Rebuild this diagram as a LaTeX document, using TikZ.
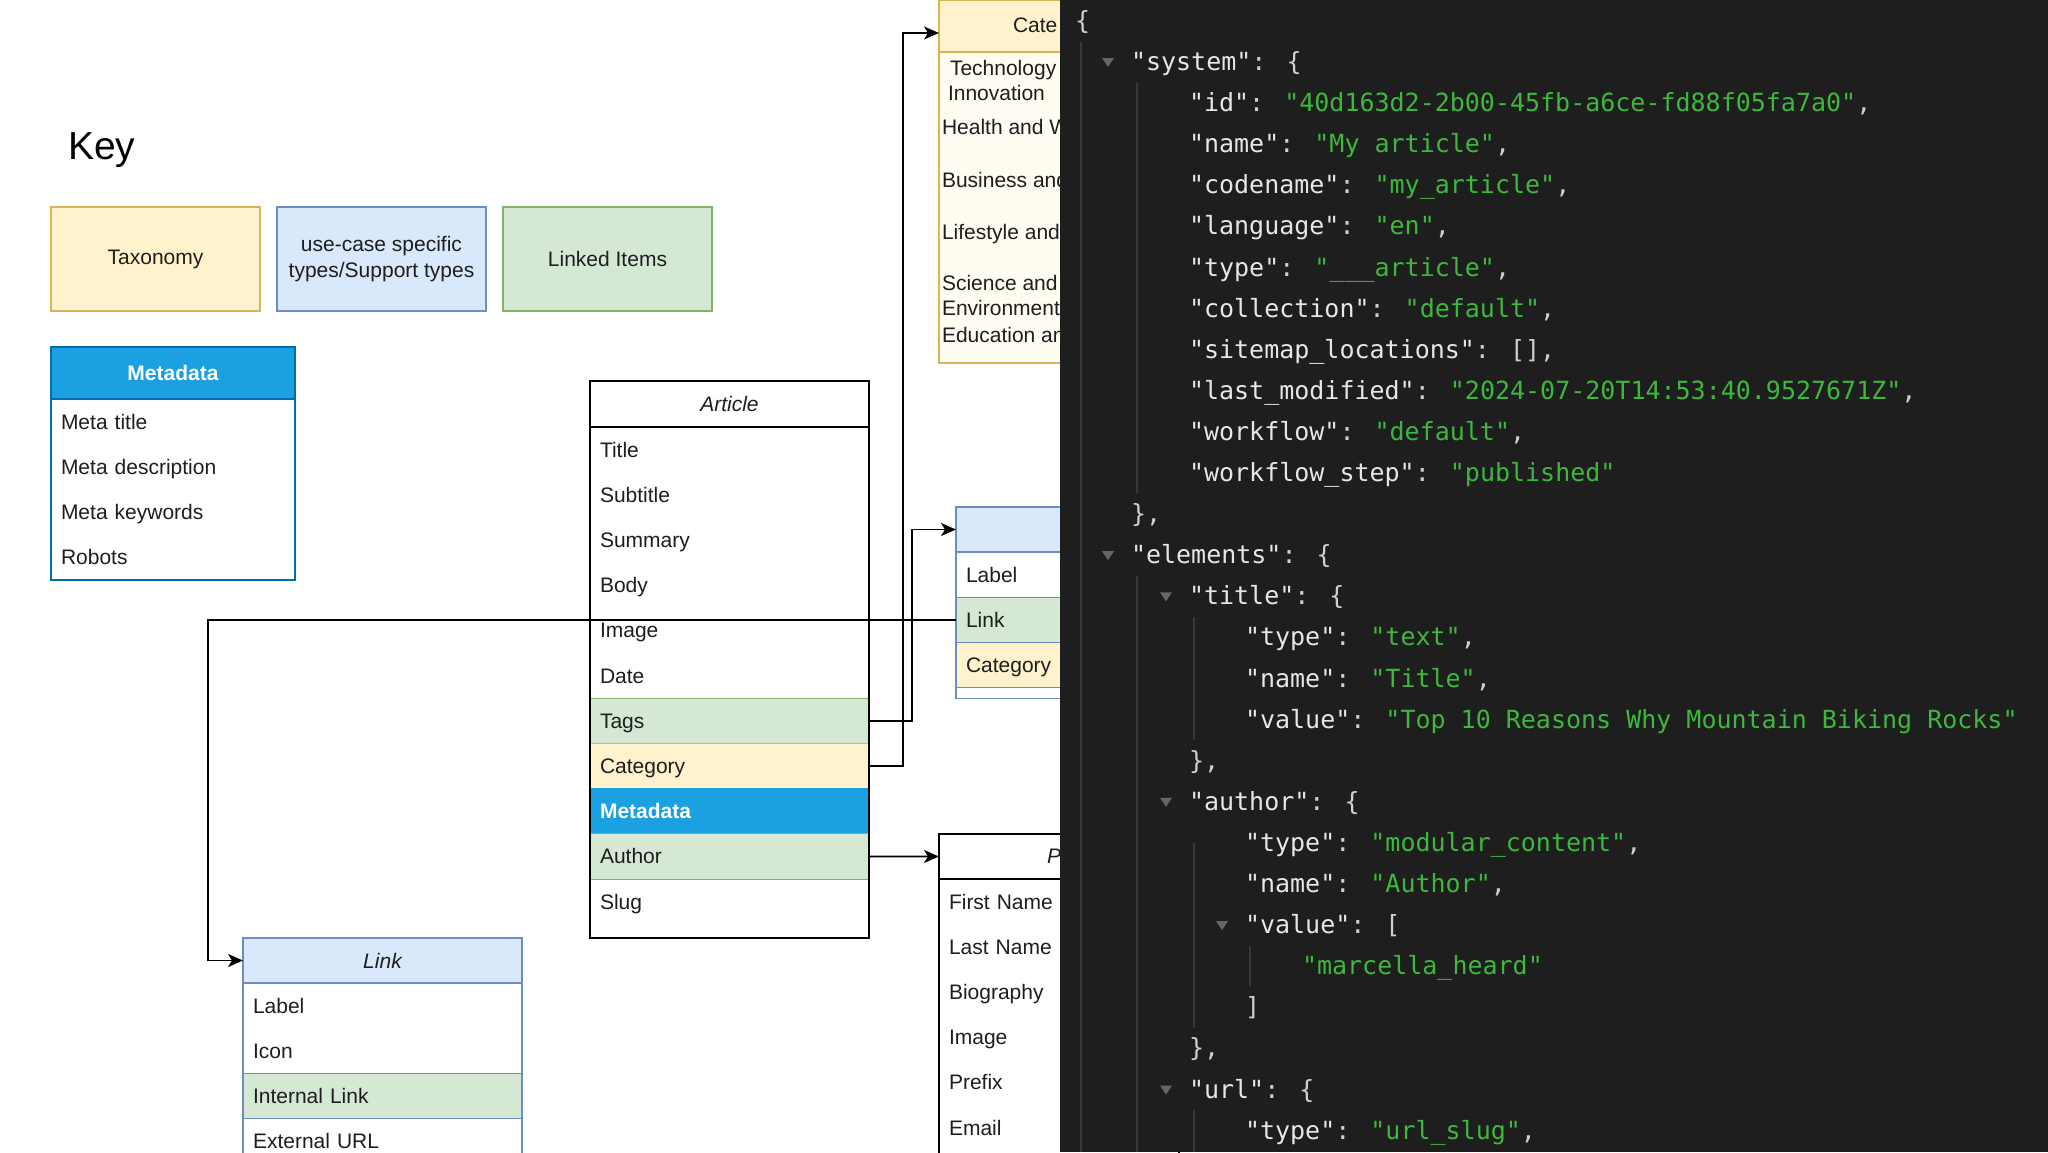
\documentclass[tikz,border=0pt]{standalone}
\usepackage{fontspec}
\setmainfont{Liberation Sans}
\newfontfamily\jsonfont{DejaVu Sans Mono}
\usetikzlibrary{arrows.meta}
\definecolor{lyel}{HTML}{FFF2CC}
\definecolor{byel}{HTML}{D6B656}
\definecolor{lblue}{HTML}{DAE8FC}
\definecolor{bblue}{HTML}{6C8EBF}
\definecolor{lgreen}{HTML}{D5E8D4}
\definecolor{bgreen}{HTML}{82B366}
\definecolor{mblue}{HTML}{1BA1E2}
\definecolor{mborder}{HTML}{006EAF}
\definecolor{catbody}{HTML}{FFFCF2}
\definecolor{dtxt}{HTML}{1E1E1E}
\definecolor{panel}{HTML}{1E1E1E}
\definecolor{jkey}{HTML}{E6E6E6}
\definecolor{jpun}{HTML}{D0D0D0}
\definecolor{jstr}{HTML}{3DB83D}
\definecolor{jguide}{HTML}{383838}
\definecolor{jtri}{HTML}{666666}
\newcommand\dfont{\fontsize{21}{26}\selectfont}
\newcommand\jsk[1]{\textcolor{jkey}{#1}}
\newcommand\jsv[1]{\textcolor{jstr}{#1}}
\begin{document}
\begin{tikzpicture}[x=1pt,y=-1pt,
  every node/.append style={outer sep=0pt},
  dtext/.style={font=\dfont, text=dtxt},
  cell/.style={rectangle, anchor=north west, inner xsep=10pt, inner ysep=0pt, minimum height=45.2pt, text height=18.6pt, text depth=3.6pt, align=left, dtext},
  hcell/.style={cell, align=center},
  artcell/.style={cell, text width=259pt},
  lnkcell/.style={cell, text width=259pt},
  midcell/.style={cell, text width=220pt, draw=bblue, line width=1pt},
  percell/.style={cell, text width=220pt},
  metacell/.style={cell, text width=224pt},
  keybox/.style={rectangle, anchor=north west, minimum width=209pt, minimum height=104pt, inner sep=0pt, align=center, dtext, line width=1.2pt},
  greenrow/.style={fill=lgreen, draw=bgreen, line width=1pt},
  yelrow/.style={fill=lyel, draw=byel, line width=1pt},
  bluerow/.style={fill=mblue, draw=mblue, line width=1pt},
  cattext/.style={anchor=base west, inner sep=0pt, dtext},
  conn/.style={draw=black, line width=1.8pt, -{Stealth[length=15pt,width=13pt,inset=4pt]}},
  jl/.style={anchor=base west, inner sep=0pt, font=\jsonfont\fontsize{25}{30}\selectfont, text=jpun},
  guide/.style={draw=jguide, line width=1.3pt},
  tri/.style={fill=jtri}
]
\useasboundingbox (0,0) rectangle (2048,1152);
\clip (0,0) rectangle (2048,1152);
\fill[white] (0,0) rectangle (2048,1152);

% ---------- Key ----------
\node[anchor=base west, inner sep=0pt, font=\fontsize{39}{42}\selectfont, text=black] (key-title) at (68,159) {Key};
\node[keybox, fill=lyel, draw=byel] (key-tax) at (51,207) {Taxonomy};
\node[keybox, fill=lblue, draw=bblue] (key-use) at (277,207) {use-case specific\\types/Support types};
\node[keybox, fill=lgreen, draw=bgreen] (key-link) at (503,207) {Linked Items};

% ---------- Metadata ----------
\node[hcell, text width=224pt, minimum height=52pt, fill=mblue, draw=mborder, line width=1.2pt, font=\dfont\bfseries, text=white] (meta-head) at (51,347) {Metadata};
\node[metacell] (meta-r1) at (meta-head.south west) {Meta title};
\node[metacell] (meta-r2) at (meta-r1.south west) {Meta description};
\node[metacell] (meta-r3) at (meta-r2.south west) {Meta keywords};
\node[metacell] (meta-r4) at (meta-r3.south west) {Robots};
\draw[mborder, line width=1.5pt] (meta-head.north west) rectangle (meta-r4.south east);

% ---------- Article ----------
\node[hcell, text width=259pt, minimum height=46pt, draw=black, line width=1.5pt, font=\dfont\itshape] (art-head) at (590,381) {Article};
\node[artcell] (art-title) at (art-head.south west) {Title};
\node[artcell] (art-subtitle) at (art-title.south west) {Subtitle};
\node[artcell] (art-summary) at (art-subtitle.south west) {Summary};
\node[artcell] (art-body) at (art-summary.south west) {Body};
\node[artcell] (art-image) at (art-body.south west) {Image};
\node[artcell] (art-date) at (art-image.south west) {Date};
\node[artcell, greenrow] (art-tags) at (art-date.south west) {Tags};
\node[artcell, yelrow] (art-cat) at (art-tags.south west) {Category};
\node[artcell, bluerow, font=\dfont\bfseries, text=white] (art-meta) at (art-cat.south west) {Metadata};
\node[artcell, greenrow] (art-author) at (art-meta.south west) {Author};
\node[artcell] (art-slug) at (art-author.south west) {Slug};
\draw[black, line width=1.5pt] (art-head.north west) rectangle ([yshift=-13.8pt]art-slug.south east);

% ---------- Link ----------
\node[hcell, text width=259pt, minimum height=45pt, fill=lblue, draw=bblue, line width=1.2pt, font=\dfont\itshape] (lnk-head) at (243,938) {Link};
\node[lnkcell] (lnk-label) at (lnk-head.south west) {Label};
\node[lnkcell] (lnk-icon) at (lnk-label.south west) {Icon};
\node[lnkcell, greenrow, draw=bblue] (lnk-int) at (lnk-icon.south west) {Internal Link};
\node[lnkcell, draw=bblue, line width=1pt] (lnk-ext) at (lnk-int.south west) {External URL};
\draw[bblue, line width=1.5pt] (lnk-head.north west) rectangle ([yshift=-60pt]lnk-ext.south east);

% ---------- middle support type ----------
\node[hcell, text width=220pt, minimum height=45pt, fill=lblue, draw=bblue, line width=1.2pt] (mid-head) at (956,507) {};
\node[midcell] (mid-label) at (mid-head.south west) {Label};
\node[midcell, fill=lgreen] (mid-link) at (mid-label.south west) {Link};
\node[midcell, fill=lyel] (mid-cat) at (mid-link.south west) {Category};
\draw[bblue, line width=1.5pt] (mid-head.north west) rectangle ([yshift=-11pt]mid-cat.south east);

% ---------- Category taxonomy ----------
\node[cell, text width=220pt, minimum height=52pt, fill=lyel, draw=byel, line width=1.2pt] (cat-head) at (939,0) {};
\node[cell, text width=220pt, minimum height=311pt, fill=catbody, draw=byel, line width=1.2pt] (cat-body) at (cat-head.south west) {};
\node[cattext] (cat-title) at (1013,32) {Cate};
\node[cattext] (cat-t1) at (950,75) {Technology};
\node[cattext] (cat-t1b) at (948,100) {Innovation};
\node[cattext] (cat-t2) at (942,134) {Health and W};
\node[cattext] (cat-t3) at (942,187) {Business and};
\node[cattext] (cat-t4) at (942,239) {Lifestyle and};
\node[cattext] (cat-t5) at (942,290) {Science and};
\node[cattext] (cat-t5b) at (942,315) {Environment};
\node[cattext] (cat-t6) at (942,342) {Education an};

% ---------- Person ----------
\node[cell, text width=220pt, minimum height=45pt, draw=black, line width=1.5pt] (per-head) at (939,834) {};
\node[cattext, font=\dfont\itshape] (per-title) at (1047,863) {P};
\node[percell] (per-first) at (per-head.south west) {First Name};
\node[percell] (per-last) at (per-first.south west) {Last Name};
\node[percell] (per-bio) at (per-last.south west) {Biography};
\node[percell] (per-img) at (per-bio.south west) {Image};
\node[percell] (per-prefix) at (per-img.south west) {Prefix};
\node[percell] (per-email) at (per-prefix.south west) {Email};
\draw[black, line width=1.5pt] (per-head.north west) rectangle ([yshift=-60pt]per-email.south east);

% ---------- connectors ----------
\coordinate (lk-corner) at (208,800);
\coordinate (tg-corner) at (912,600);
\coordinate (ct-corner) at (903,400);
\draw[conn] (mid-link.west) -| (lk-corner) |- (lnk-head.west);
\draw[conn] (art-tags.east) -| (tg-corner) |- (mid-head.west);
\draw[conn] (art-cat.east) -| (ct-corner) |- ([yshift=-7pt]cat-head.west);
\draw[conn] (art-author.east) -- (per-head.west);

% ---------- JSON panel ----------
\fill[panel] (1060,0) rectangle (2048,1152);
\draw[guide] (1081,42) -- (1081,1152);
\draw[guide] (1137,83) -- (1137,493);
\draw[guide] (1137,576) -- (1137,1152);
\draw[guide] (1194,617) -- (1194,740);
\draw[guide] (1194,843) -- (1194,1028);
\draw[guide] (1194,1110) -- (1194,1152);
\draw[guide] (1250,946) -- (1250,986);

\foreach \ln/\tx in {1/1108, 13/1108, 14/1166, 19/1166, 22/1222, 26/1166}{
  \fill[tri] ({\tx-6},{20.9+41.1*\ln-4}) -- ({\tx+6},{20.9+41.1*\ln-4}) -- (\tx,{20.9+41.1*\ln+5}) -- cycle;
}

\node[jl] (j0) at (1075,{20.9+41.1*0+8.5}) {\{};
\node[jl] (j1) at (1131,{20.9+41.1*1+8.5}) {\jsk{"system"}: \{};
\node[jl] (j2) at (1189,{20.9+41.1*2+8.5}) {\jsk{"id"}: \jsv{"40d163d2-2b00-45fb-a6ce-fd88f05fa7a0"},};
\node[jl] (j3) at (1189,{20.9+41.1*3+8.5}) {\jsk{"name"}: \jsv{"My article"},};
\node[jl] (j4) at (1189,{20.9+41.1*4+8.5}) {\jsk{"codename"}: \jsv{"my\_article"},};
\node[jl] (j5) at (1189,{20.9+41.1*5+8.5}) {\jsk{"language"}: \jsv{"en"},};
\node[jl] (j6) at (1189,{20.9+41.1*6+8.5}) {\jsk{"type"}: \jsv{"\_\_\_article"},};
\node[jl] (j7) at (1189,{20.9+41.1*7+8.5}) {\jsk{"collection"}: \jsv{"default"},};
\node[jl] (j8) at (1189,{20.9+41.1*8+8.5}) {\jsk{"sitemap\_locations"}: [],};
\node[jl] (j9) at (1189,{20.9+41.1*9+8.5}) {\jsk{"last\_modified"}: \jsv{"2024-07-20T14:53:40.9527671Z"},};
\node[jl] (j10) at (1189,{20.9+41.1*10+8.5}) {\jsk{"workflow"}: \jsv{"default"},};
\node[jl] (j11) at (1189,{20.9+41.1*11+8.5}) {\jsk{"workflow\_step"}: \jsv{"published"}};
\node[jl] (j12) at (1131,{20.9+41.1*12+8.5}) {\},};
\node[jl] (j13) at (1131,{20.9+41.1*13+8.5}) {\jsk{"elements"}: \{};
\node[jl] (j14) at (1189,{20.9+41.1*14+8.5}) {\jsk{"title"}: \{};
\node[jl] (j15) at (1245,{20.9+41.1*15+8.5}) {\jsk{"type"}: \jsv{"text"},};
\node[jl] (j16) at (1245,{20.9+41.1*16+8.5}) {\jsk{"name"}: \jsv{"Title"},};
\node[jl] (j17) at (1245,{20.9+41.1*17+8.5}) {\jsk{"value"}: \jsv{"Top 10 Reasons Why Mountain Biking Rocks"}};
\node[jl] (j18) at (1189,{20.9+41.1*18+8.5}) {\},};
\node[jl] (j19) at (1189,{20.9+41.1*19+8.5}) {\jsk{"author"}: \{};
\node[jl] (j20) at (1245,{20.9+41.1*20+8.5}) {\jsk{"type"}: \jsv{"modular\_content"},};
\node[jl] (j21) at (1245,{20.9+41.1*21+8.5}) {\jsk{"name"}: \jsv{"Author"},};
\node[jl] (j22) at (1245,{20.9+41.1*22+8.5}) {\jsk{"value"}: [};
\node[jl] (j23) at (1302,{20.9+41.1*23+8.5}) {\jsv{"marcella\_heard"}};
\node[jl] (j24) at (1245,{20.9+41.1*24+8.5}) {]};
\node[jl] (j25) at (1189,{20.9+41.1*25+8.5}) {\},};
\node[jl] (j26) at (1189,{20.9+41.1*26+8.5}) {\jsk{"url"}: \{};
\node[jl] (j27) at (1245,{20.9+41.1*27+8.5}) {\jsk{"type"}: \jsv{"url\_slug"},};
\end{tikzpicture}
\end{document}
